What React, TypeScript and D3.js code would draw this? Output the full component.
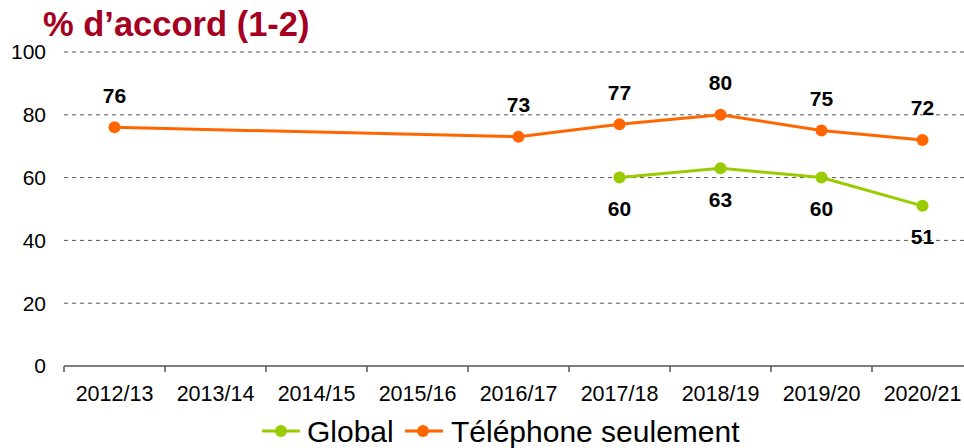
import React from "react";
import * as d3 from "d3";

const categories = ["2012/13", "2013/14", "2014/15", "2015/16", "2016/17", "2017/18", "2018/19", "2019/20", "2020/21"];
const globalValues: (number | null)[] = [null, null, null, null, null, 60, 63, 60, 51];
const telephoneValues: (number | null)[] = [76, null, null, null, 73, 77, 80, 75, 72];
const yTicks = [0, 20, 40, 60, 80, 100];
const seriesNames = ["Global", "Téléphone seulement"];
const title = "% d’accord (1-2)";

const W = 964, H = 448;
const GREEN = "#99CC00";
const ORANGE = "#FF6600";
const FONT = "Liberation Sans, Arial, sans-serif";

export default function App() {
  const x = d3.scaleBand<string>().domain(categories).range([64, 973]);
  const y = d3.scaleLinear().domain([0, 100]).range([366, 52]);
  const cx = (c: string) => (x(c) ?? 0) + x.bandwidth() / 2;

  const mkPts = (vals: (number | null)[]) =>
    categories.map((c, i) => ({ c, v: vals[i] })).filter((d) => d.v !== null) as { c: string; v: number }[];
  const gPts = mkPts(globalValues);
  const tPts = mkPts(telephoneValues);
  const line = d3.line<{ c: string; v: number }>().x((d) => cx(d.c)).y((d) => y(d.v));

  return (
    <svg width={W} height={H} style={{ position: "absolute", left: 0, top: 0, background: "#fff" }} fontFamily={FONT}>
      <text x={43} y={36} fontSize={34.5} fontWeight="bold" fill="#A50021">{title}</text>
      {yTicks.map((t) => (
        <g key={t}>
          {t > 0 && (
            <line x1={64} x2={W} y1={y(t)} y2={y(t)} stroke="#555" strokeWidth={1} strokeDasharray="4,4" />
          )}
          <text x={46} y={y(t)} dy="0.35em" textAnchor="end" fontSize={21} fill="#000">{t}</text>
        </g>
      ))}
      <line x1={64} x2={973} y1={y(0)} y2={y(0)} stroke="#555" strokeWidth={1.5} />
      {categories.map((c) => (
        <g key={c}>
          <line x1={x(c)} x2={x(c)} y1={y(0)} y2={y(0) + 6} stroke="#555" strokeWidth={1.5} />
          <text x={cx(c)} y={393} dy="0.35em" textAnchor="middle" fontSize={21.5} fill="#000">{c}</text>
        </g>
      ))}
      <path d={line(tPts) ?? ""} fill="none" stroke={ORANGE} strokeWidth={3} />
      <path d={line(gPts) ?? ""} fill="none" stroke={GREEN} strokeWidth={3} />
      {tPts.map((d) => (
        <g key={"t" + d.c}>
          <circle cx={cx(d.c)} cy={y(d.v)} r={6} fill={ORANGE} />
          <text x={cx(d.c)} y={y(d.v) - 32} dy="0.35em" textAnchor="middle" fontSize={21} fontWeight="bold" fill="#000">{d.v}</text>
        </g>
      ))}
      {gPts.map((d) => (
        <g key={"g" + d.c}>
          <circle cx={cx(d.c)} cy={y(d.v)} r={6} fill={GREEN} />
          <text x={cx(d.c)} y={y(d.v) + 31} dy="0.35em" textAnchor="middle" fontSize={21} fontWeight="bold" fill="#000">{d.v}</text>
        </g>
      ))}
      <g>
        <line x1={262} x2={300} y1={431} y2={431} stroke={GREEN} strokeWidth={3} />
        <circle cx={281} cy={431} r={6} fill={GREEN} />
        <text x={307} y={431} dy="0.35em" fontSize={30} fill="#000">{seriesNames[0]}</text>
        <line x1={405} x2={443} y1={431} y2={431} stroke={ORANGE} strokeWidth={3} />
        <circle cx={423} cy={431} r={6} fill={ORANGE} />
        <text x={451} y={431} dy="0.35em" fontSize={30} fill="#000">{seriesNames[1]}</text>
      </g>
    </svg>
  );
}
